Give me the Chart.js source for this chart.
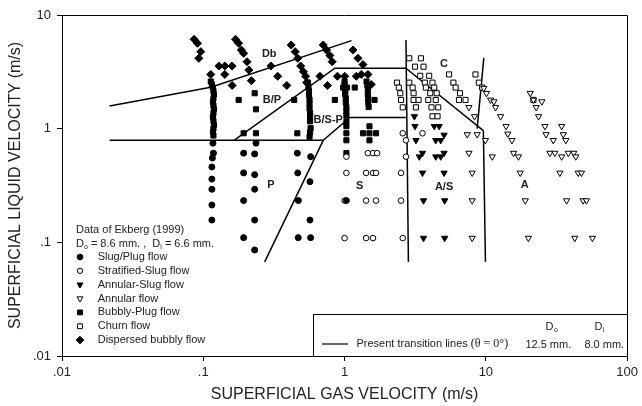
<!DOCTYPE html>
<html><head><meta charset="utf-8">
<script src="https://cdn.jsdelivr.net/npm/chart.js@4.4.0/dist/chart.umd.min.js"></script>
<style>html,body{margin:0;padding:0;background:#fff;}#wrap{width:642px;height:406px;position:relative;}</style>
</head><body><div id="wrap"><canvas id="c" width="642" height="406" style="width:642px;height:406px"></canvas></div>
<script>
// ---- tick values / labels ----
const xTickVals = [0.01, 0.1, 1, 10, 100];
const xTickLabels = ['.01', '.1', '1', '10', '100'];
const yTickVals = [0.01, 0.1, 1, 10];
const yTickLabels = ['.01', '.1', '1', '10'];

// ---- series: [gas velocity, liquid velocity] (m/s) ----
const slugPlug = [
  [0.117,0.746],[0.118,0.609],[0.116,0.552],[0.115,0.46],[0.115,0.36],[0.115,0.293],[0.115,0.213],[0.115,0.157],
  [0.193,0.609],[0.193,0.408],[0.193,0.233],[0.193,0.110],[0.236,0.746],[0.231,0.60],[0.231,0.394],[0.231,0.293],[0.231,0.157],[0.231,0.0857],
  [0.463,0.609],[0.466,0.408],[0.471,0.233],[0.47,0.11],[0.575,0.567],[0.569,0.342],[0.569,0.157],[0.575,0.11],
  [1.03,0.233]
];
const stratSlug = [
  [2.58,0.911],[3.56,0.911],[2.72,0.79],
  [1.03,0.567],[1.46,0.609],[1.59,0.609],[1.70,0.609],[2.72,0.567],
  [1.03,0.408],[1.42,0.408],[1.59,0.408],[1.67,0.408],[2.51,0.408],
  [1.0,0.233],[1.42,0.233],[1.67,0.233],[2.51,0.233],
  [1.0,0.109],[1.42,0.109],[1.59,0.109],[2.58,0.109]
];
const annularSlug = [
  [3.12,1.28],[3.15,1.05],[4.31,1.05],[4.67,1.05],[5.06,0.88],[3.20,0.79],[4.42,0.79],[4.79,0.79],
  [3.56,0.61],[3.38,0.567],[4.42,0.567],[5.06,0.61],[4.79,0.567],[3.56,0.408],[5.06,0.408],
  [3.62,0.233],[5.11,0.233],[3.62,0.109],[5.11,0.109]
];
const annular = [
  [7.38,0.889],[8.68,0.889],[9.93,0.79],[7.59,0.61],[8.0,0.408],[7.59,1.54],[8.31,1.28],[9.67,2.27],[10.1,2.05],
  [10.8,1.79],[11.4,1.73],[11.7,1.54],[12.7,1.28],[13.9,1.05],[14.3,0.90],[15.3,0.79],[11.1,0.567],[15.7,0.61],
  [17.0,0.567],[17.5,0.408],[20.6,2.05],[21.7,1.79],[24.9,1.73],[22.7,1.54],[23.6,1.28],[26.2,1.05],[26.7,0.889],
  [30.0,0.79],[34.4,1.05],[35.3,0.889],[36.8,0.79],[28.4,0.61],[30.8,0.61],[34.4,0.567],[38.3,0.61],[41.9,0.61],
  [43.3,0.567],[33.4,0.408],[45.0,0.408],[47.5,0.408],[8.0,0.233],[19.0,0.233],[37.3,0.233],[48.8,0.233],[51.5,0.233],
  [8.0,0.109],[20.0,0.109],[42.6,0.109],[56.8,0.109]
];
const bubblyPlug = [
  [0.113,2.6],[0.115,2.45],[0.117,2.3],[0.118,2.15],[0.119,2.0],[0.118,1.85],[0.117,1.72],[0.118,1.6],[0.119,1.48],
  [0.118,1.37],[0.117,1.27],[0.118,1.17],[0.119,1.08],[0.118,1.0],[0.117,0.93],[0.118,0.87],
  [0.178,1.79],[0.231,2.05],[0.236,1.48],[0.193,0.911],[0.236,0.911],[0.44,1.79],[0.463,0.911],
  [0.55,2.55],[0.555,2.35],[0.56,2.15],[0.56,1.97],[0.565,1.8],[0.565,1.65],[0.565,1.5],[0.57,1.38],[0.57,1.27],
  [0.57,1.16],[0.575,1.01],[0.57,0.93],[0.565,0.85],
  [0.853,1.79],[0.976,2.30],[1.04,2.30],
  [1.0,2.6],[1.0,2.45],[1.0,2.3],[1.01,2.15],[1.01,2.0],[1.02,1.85],[1.02,1.7],[1.03,1.55],[1.03,1.42],[1.03,1.3],
  [1.03,1.15],[1.03,1.05],[1.03,0.911],[1.03,0.79],[1.03,0.609],
  [1.18,2.30],
  [1.43,2.6],[1.45,2.4],[1.46,2.2],[1.46,2.0],[1.47,1.85],[1.47,1.7],[1.48,1.55],[1.63,1.79],
  [1.35,0.911],[1.50,0.911],[1.67,0.911],[1.50,1.05],[1.50,0.79]
];
const churn = [
  [2.87,4.16],[3.47,4.16],[3.15,3.51],[3.62,3.51],[3.43,2.92],[3.97,2.92],[2.35,2.54],[2.87,2.54],[3.70,2.54],[4.19,2.54],
  [2.42,2.30],[3.03,2.30],[3.76,2.30],[4.31,2.30],[2.48,2.05],[3.08,2.05],[4.04,2.05],[4.49,2.05],
  [2.51,1.79],[3.08,1.79],[3.34,1.79],[3.91,1.79],[4.42,1.79],[2.58,1.54],[3.20,1.54],[4.12,1.54],[4.60,1.54],
  [4.19,1.285],[4.55,1.285],[5.49,3.0],[5.89,2.54],[6.11,2.30],[6.56,2.05],[6.45,1.79],[7.18,1.79],
  [8.44,3.0],[8.92,2.54],[9.41,2.30],[21.7,1.79]
];
const dispersed = [
  [0.086,6.11],[0.091,5.64],[0.096,4.76],[0.093,4.16],[0.113,3.0],[0.129,3.56],[0.142,3.56],[0.160,3.56],[0.142,3.0],
  [0.160,2.40],[0.169,6.11],[0.178,5.64],[0.186,4.92],[0.193,4.60],[0.204,3.88],[0.210,3.28],[0.219,2.64],
  [0.301,3.56],[0.336,2.89],[0.390,2.40],[0.419,5.45],[0.447,4.76],[0.466,4.16],[0.489,3.56],[0.511,3.17],
  [0.530,2.89],[0.539,2.54],[0.670,2.89],[0.706,5.45],[0.745,4.92],[0.787,4.40],[0.817,3.88],[0.757,2.40],
  [0.890,2.89],[1.003,2.89],[1.147,4.92],[1.244,4.16],[1.349,3.66],[1.211,2.89],[1.313,3.0],[1.463,3.0],[1.543,2.45]
];

// ---- present transition lines ----
const lineDb = [[0.0217,1.58],[0.113,2.31],[1.12,5.95]];
const lineLow = [[0.0217,0.79],[0.706,0.79],[1.09,1.254],[2.72,1.254]];
const lineBP = [[0.165,0.79],[0.853,3.40],[2.72,3.40]];
const linePS = [[0.272,0.0673],[0.706,0.79]];
const lineV1 = [[2.72,6.03],[2.83,0.0673]];
const lineDiag = [[2.72,3.40],[9.6,0.96],[9.93,0.0673]];
const lineC = [[9.67,4.2],[8.68,1.0]];

// ---- region labels ----
const regionLabels = [
  ['Db',0.293,4.54],['B/P',0.306,1.79],['B/S-P',0.766,1.19],['P',0.301,0.32],
  ['S',1.28,0.313],['A/S',5.06,0.31],['A',18.8,0.32],['C',5.06,3.71]
];
const legendNames = ['Slug/Plug flow','Stratified-Slug flow','Annular-Slug flow','Annular flow','Bubbly-Plug flow','Churn flow','Dispersed bubbly flow'];

const FONT = '"Liberation Sans", Arial, Helvetica, sans-serif';
const TXT = '#222';
const pts = a => a.map(([x,y]) => ({x, y}));

const styles = [
  {style:'circle', fill:'#000', r:3.0, rot:0},
  {style:'circle', fill:'#fff', r:2.8, rot:0},
  {style:'triangle', fill:'#000', r:3.6, rot:180},
  {style:'triangle', fill:'#fff', r:3.6, rot:180},
  {style:'rect', fill:'#000', r:3.6, rot:0},
  {style:'rect', fill:'#fff', r:3.6, rot:0},
  {style:'rectRot', fill:'#000', r:4.0, rot:0}
];
const seriesList = [slugPlug, stratSlug, annularSlug, annular, bubblyPlug, churn, dispersed];

const datasets = [];
[lineDb, lineLow, lineBP, linePS, lineV1, lineDiag, lineC].forEach(l => datasets.push({
  data: pts(l), showLine: true, borderColor: '#000', borderWidth: 1.5, pointRadius: 0, fill: false, tension: 0, order: 2
}));
seriesList.forEach((s, i) => datasets.push({
  label: legendNames[i], data: pts(s), showLine: false,
  pointStyle: styles[i].style, pointRadius: styles[i].r, pointRotation: styles[i].rot,
  pointBackgroundColor: styles[i].fill, pointBorderColor: '#000', pointBorderWidth: 1, order: 1
}));

function marker(ctx, st, x, y) {
  const H = Chart.helpers;
  ctx.fillStyle = st.fill; ctx.strokeStyle = '#000'; ctx.lineWidth = 1;
  if (H && H.drawPoint) {
    H.drawPoint(ctx, {pointStyle: st.style, radius: st.r * 0.95, rotation: st.rot, borderWidth: 1}, x, y);
  }
}

const overlay = {
  id: 'overlay',
  afterDraw(chart) {
    const {ctx, chartArea: a, scales: {x, y}} = chart;
    ctx.save();
    ctx.strokeStyle = '#000'; ctx.lineWidth = 1;
    ctx.beginPath();
    ctx.moveTo(a.left, Math.round(a.top) + 0.5); ctx.lineTo(Math.round(a.right) + 0.5, Math.round(a.top) + 0.5);
    ctx.lineTo(Math.round(a.right) + 0.5, a.bottom);
    ctx.stroke();
    // region labels
    ctx.fillStyle = TXT; ctx.font = 'bold 11px ' + FONT; ctx.textAlign = 'center'; ctx.textBaseline = 'middle';
    regionLabels.forEach(([t, vx, vy]) => ctx.fillText(t, x.getPixelForValue(vx), y.getPixelForValue(vy)));
    // top-left legend
    const L = a.left;
    ctx.textAlign = 'left'; ctx.font = '11px ' + FONT;
    ctx.fillText('Data of Ekberg (1999)', L + 14, 229.5);
    let cx = L + 14;
    const seg = (t, f, dy) => { ctx.font = f; ctx.fillText(t, cx, 244 + dy); cx += ctx.measureText(t).width; };
    seg('D', '11px ' + FONT, 0); seg('o', '7px ' + FONT, 3); seg(' = 8.6 mm. ,  D', '11px ' + FONT, 0);
    seg('i', '7px ' + FONT, 3); seg(' = 6.6 mm.', '11px ' + FONT, 0);
    ctx.font = '11px ' + FONT;
    legendNames.forEach((n, i) => {
      const yy = 257 + i * 13.85;
      marker(ctx, styles[i], L + 18, yy);
      ctx.fillStyle = TXT; ctx.fillText(n, L + 35.7, yy);
    });
    // bottom-right box
    const bx0 = 313, by0 = 314;
    ctx.strokeStyle = '#000'; ctx.lineWidth = 1;
    ctx.strokeRect(bx0 + 0.5, by0 + 0.5, Math.round(a.right) - bx0, a.bottom - by0);
    ctx.beginPath(); ctx.lineWidth = 1.2; ctx.moveTo(322, 344); ctx.lineTo(348, 344); ctx.stroke();
    ctx.fillStyle = TXT; ctx.font = '11px ' + FONT; ctx.textAlign = 'left';
    ctx.fillText('Present transition lines', 356.5, 344);
    const w = ctx.measureText('Present transition lines ').width;
    ctx.font = '12px "Liberation Serif", "DejaVu Serif", serif';
    ctx.fillText('(\u03B8 = 0\u00B0)', 356.5 + w, 344);
    ctx.font = '11px ' + FONT; ctx.textAlign = 'center';
    ctx.fillText('12.5 mm.', 548.3, 345); ctx.fillText('8.0 mm.', 604.3, 345);
    ctx.fillText('D', 549.5, 326.5); ctx.fillText('D', 598.5, 326.5);
    ctx.font = '7px ' + FONT;
    ctx.fillText('o', 556, 330); ctx.fillText('i', 603.5, 330);
    ctx.restore();
  }
};

new Chart(document.getElementById('c'), {
  type: 'scatter',
  data: {datasets},
  options: {
    responsive: false, animation: false, devicePixelRatio: 1,
    layout: {padding: {top: 15, right: 11, left: 0, bottom: 0}},
    plugins: {legend: {display: false}, tooltip: {enabled: false}},
    scales: {
      x: {
        type: 'logarithmic', min: 0.01, max: 100, position: 'bottom',
        afterBuildTicks: s => { s.ticks = xTickVals.map(v => ({value: v})); },
        afterFit: s => { s.height = 50; },
        ticks: {autoSkip: false, maxRotation: 0, padding: 4, color: TXT, font: {size: 13, family: FONT},
          callback: v => { const i = xTickVals.indexOf(v); return i >= 0 ? xTickLabels[i] : ''; }},
        grid: {display: true, drawOnChartArea: false, drawTicks: true, tickLength: 5, color: '#000'},
        border: {display: true, color: '#000', width: 1},
        title: {display: true, text: 'SUPERFICIAL GAS VELOCITY (m/s)', color: TXT, font: {size: 16, family: FONT}, padding: {top: 0, bottom: 2}}
      },
      y: {
        type: 'logarithmic', min: 0.01, max: 10, position: 'left',
        afterBuildTicks: s => { s.ticks = yTickVals.map(v => ({value: v})); },
        afterFit: s => { s.width = 62; },
        ticks: {autoSkip: false, padding: 6, color: TXT, font: {size: 13, family: FONT},
          callback: v => { const i = yTickVals.indexOf(v); return i >= 0 ? yTickLabels[i] : ''; }},
        grid: {display: true, drawOnChartArea: false, drawTicks: true, tickLength: 5, color: '#000'},
        border: {display: true, color: '#000', width: 1},
        title: {display: true, text: 'SUPERFICIAL LIQUID VELOCITY (m/s)', color: TXT, font: {size: 16, family: FONT}, padding: {top: 6, bottom: 0}}
      }
    }
  },
  plugins: [overlay]
});
</script></body></html>
